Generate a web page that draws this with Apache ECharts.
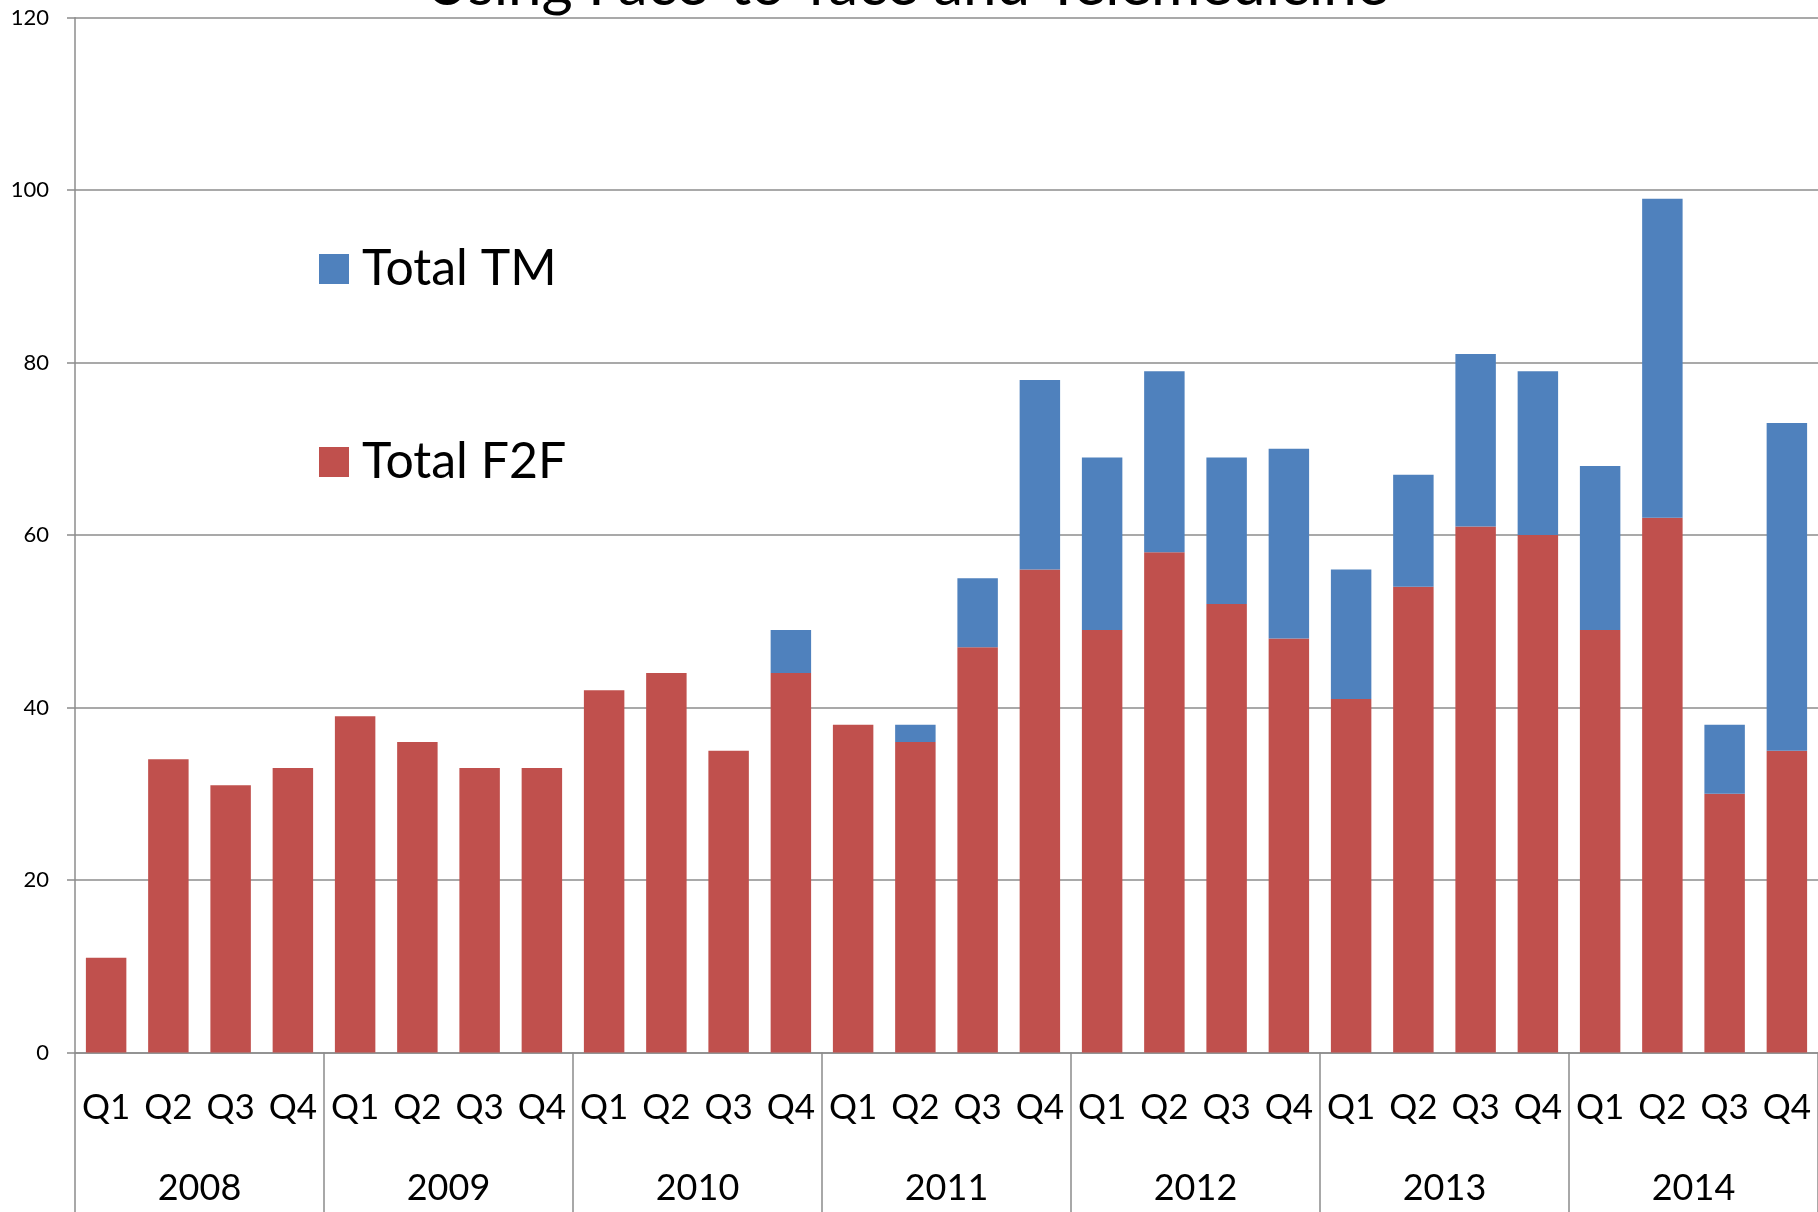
<!DOCTYPE html>
<html>
<head>
<meta charset="utf-8">
<script src="https://cdn.jsdelivr.net/npm/echarts@6/dist/echarts.min.js"></script>
<style>
  html, body { margin: 0; padding: 0; background: #fff; }
  #chart-container { width: 1818px; height: 1212px; }
</style>
</head>
<body>
<div id="chart-container"></div>
<script>
var dom = document.getElementById('chart-container');
var myChart = echarts.init(dom, null, { renderer: 'canvas' });

// data
var quarters = ['Q1', 'Q2', 'Q3', 'Q4', 'Q1', 'Q2', 'Q3', 'Q4', 'Q1', 'Q2', 'Q3', 'Q4',
  'Q1', 'Q2', 'Q3', 'Q4', 'Q1', 'Q2', 'Q3', 'Q4', 'Q1', 'Q2', 'Q3', 'Q4', 'Q1', 'Q2', 'Q3', 'Q4'];
var years = ['2008', '2009', '2010', '2011', '2012', '2013', '2014'];
var totalF2F = [11, 34, 31, 33, 39, 36, 33, 33, 42, 44, 35, 44,
  38, 36, 47, 56, 49, 58, 52, 48, 41, 54, 61, 60, 49, 62, 30, 35];
var totalTM = [0, 0, 0, 0, 0, 0, 0, 0, 0, 0, 0, 5,
  0, 2, 8, 22, 20, 21, 17, 22, 15, 13, 20, 19, 19, 37, 8, 38];

var font = 'Lato, "Open Sans", sans-serif';
var gray = '#8c8c8c';

var option = {
  animation: false,
  backgroundColor: '#fff',
  color: ['#C0504D', '#4F81BD'],
  title: {
    text: 'Using Face-to-face and Telemedicine',
    left: 420,
    top: -49,
    textStyle: { fontFamily: font, fontSize: 60, fontWeight: 'normal', color: '#000' }
  },
  legend: [
    {
      data: ['Total TM'],
      left: 314,
      top: 239,
      itemWidth: 30,
      itemHeight: 30,
      icon: 'rect',
      textStyle: { fontFamily: font, fontSize: 50, color: '#000', padding: [0, 0, 0, 8] }
    },
    {
      data: ['Total F2F'],
      left: 314,
      top: 432,
      itemWidth: 30,
      itemHeight: 30,
      icon: 'rect',
      textStyle: { fontFamily: font, fontSize: 50, color: '#000', padding: [0, 0, 0, 8] }
    }
  ],
  grid: { left: 75, right: -3, top: 17.7, bottom: 159.5, containLabel: false },
  xAxis: [
    {
      type: 'category',
      data: quarters,
      axisLine: { lineStyle: { color: gray, width: 1.5 } },
      axisTick: { show: false },
      axisLabel: { interval: 0, margin: 38, fontFamily: font, fontSize: 35, color: '#000' }
    },
    {
      type: 'category',
      data: years,
      position: 'bottom',
      axisLine: { show: false },
      axisTick: { show: true, length: 170, interval: 0, lineStyle: { color: gray, width: 1.5 } },
      axisLabel: { interval: 0, margin: 118, fontFamily: font, fontSize: 36, color: '#000' },
      splitLine: { show: false }
    }
  ],
  yAxis: {
    type: 'value',
    min: 0,
    max: 120,
    interval: 20,
    axisLine: { show: true, lineStyle: { color: gray, width: 1.5 } },
    axisTick: { show: true, length: 8, lineStyle: { color: gray, width: 1.5 } },
    axisLabel: { margin: 26, fontFamily: font, fontSize: 22, color: '#000' },
    splitLine: { lineStyle: { color: gray, width: 1.5 } }
  },
  series: [
    {
      name: 'Total F2F',
      type: 'bar',
      stack: 'visits',
      barCategoryGap: '35%',
      data: totalF2F
    },
    {
      name: 'Total TM',
      type: 'bar',
      stack: 'visits',
      barCategoryGap: '35%',
      data: totalTM
    }
  ]
};

myChart.setOption(option);

window.addEventListener('resize', myChart.resize);
</script>
</body>
</html>
